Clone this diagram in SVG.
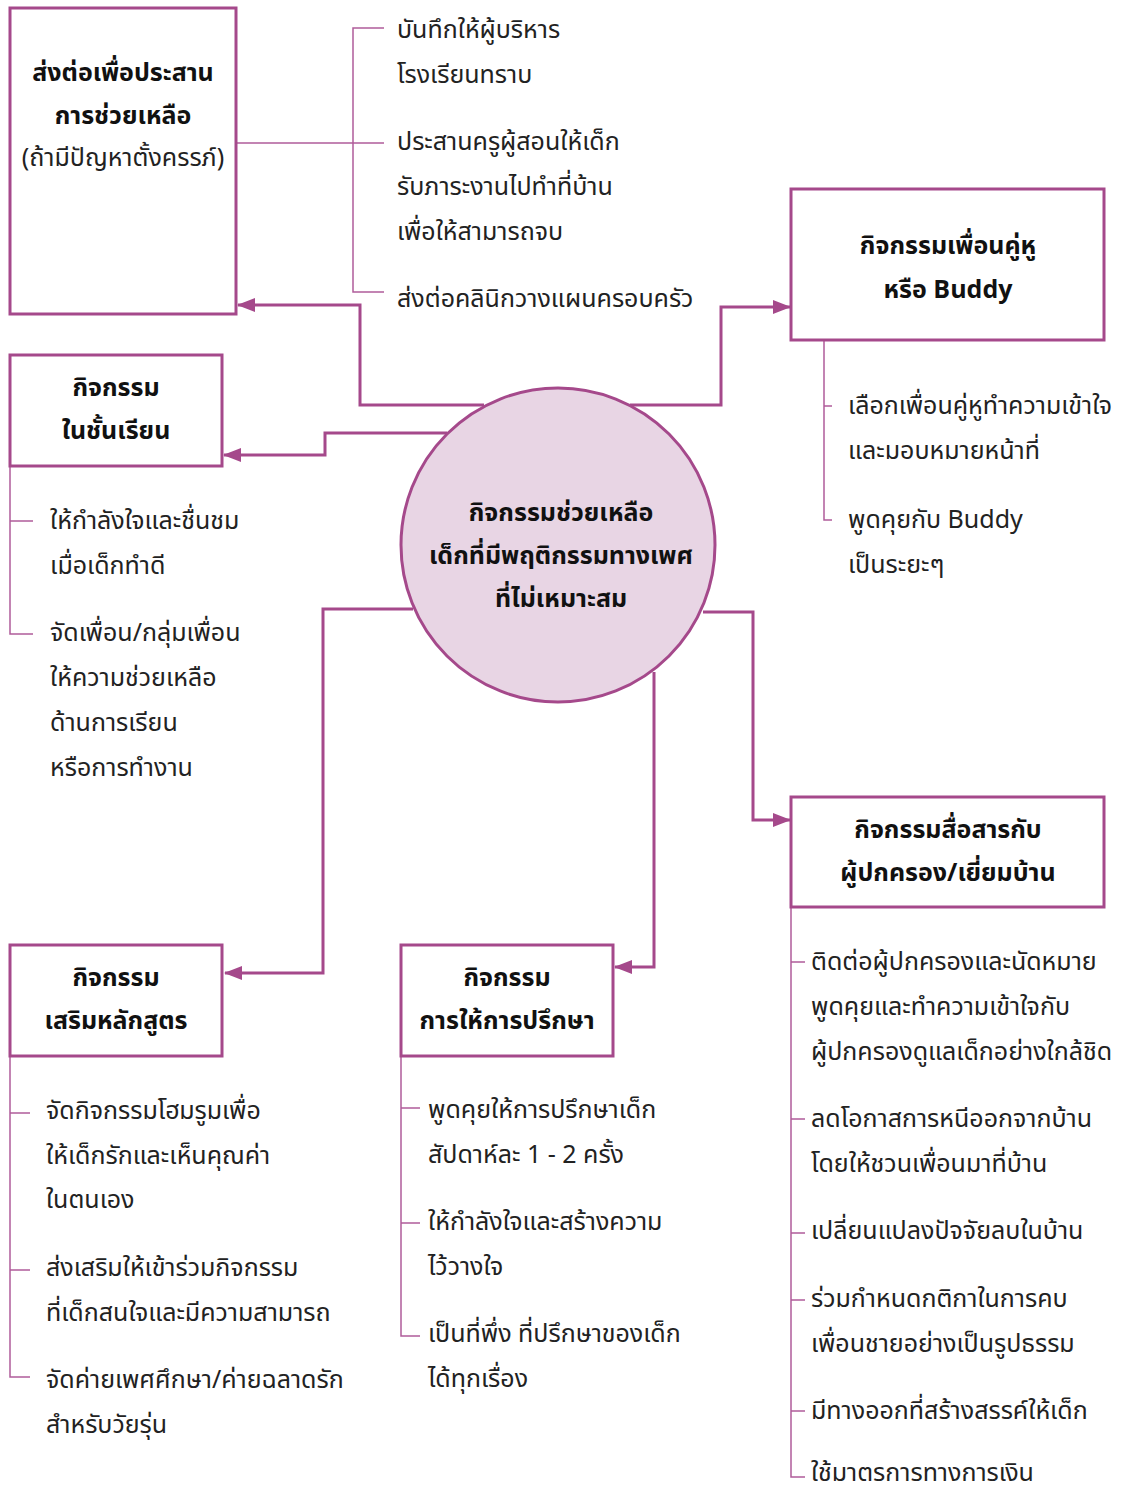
<svg xmlns="http://www.w3.org/2000/svg" width="1138" height="1490" viewBox="0 0 1138 1490">
<defs>
<style>
.box{fill:#fff;stroke:#A5498B;stroke-width:3}
.circ{fill:#E8D5E4;stroke:#A5498B;stroke-width:3}
.conn{fill:none;stroke:#A5498B;stroke-width:3}
.br{fill:none;stroke:#B05C9A;stroke-width:1.5}
text{font-family:"Noto Sans Thai","Noto Sans","DejaVu Sans",sans-serif;font-size:25px;fill:#222}
.b{font-weight:bold;text-anchor:middle;fill:#111}
.c{text-anchor:middle}
</style>
<marker id="ah" markerWidth="18" markerHeight="14" refX="17" refY="7" orient="auto" markerUnits="userSpaceOnUse" viewBox="0 0 18 14">
<path d="M0,0 L18,7 L0,14 z" fill="#A5498B"/>
</marker>
</defs>
<rect width="1138" height="1490" fill="#fff"/>

<g id="connectors">
<path class="conn" d="M484,405 H360 V305 H238" marker-end="url(#ah)"/>
<path class="conn" d="M630,405 H721 V307 H790" marker-end="url(#ah)"/>
<path class="conn" d="M447,433 H325 V455 H224" marker-end="url(#ah)"/>
<path class="conn" d="M413,609 H323 V973 H225" marker-end="url(#ah)"/>
<path class="conn" d="M654,672 V967 H615" marker-end="url(#ah)"/>
<path class="conn" d="M703,612 H753 V820 H790" marker-end="url(#ah)"/>
<path class="br" d="M236,143 H384 M384,28 H353 V292 H384"/>
<path class="br" d="M824,340 V520 H832 M824,406 H832"/>
<path class="br" d="M10,466 V634 H33 M10,521 H33"/>
<path class="br" d="M10,1056 V1377 H30 M10,1113 H30 M10,1270 H30"/>
<path class="br" d="M401,1056 V1336 H420 M401,1108 H420 M401,1223 H420"/>
<path class="br" d="M791,907 V1477 H805 M791,962 H805 M791,1119 H805 M791,1233 H805 M791,1300 H805 M791,1411 H805"/>
</g>

<g id="center">
<circle class="circ" cx="558" cy="545" r="157"/>
<text class="b" x="561" y="521">กิจกรรมช่วยเหลือ</text>
<text class="b" x="561" y="564">เด็กที่มีพฤติกรรมทางเพศ</text>
<text class="b" x="561" y="607">ที่ไม่เหมาะสม</text>
</g>

<g id="refer">
<rect class="box" x="10" y="8" width="226" height="306"/>
<text class="b" x="123" y="81">ส่งต่อเพื่อประสาน</text>
<text class="b" x="123" y="124">การช่วยเหลือ</text>
<text class="c" x="123" y="166">(ถ้ามีปัญหาตั้งครรภ์)</text>
<text x="397" y="38">บันทึกให้ผู้บริหาร</text>
<text x="397" y="83">โรงเรียนทราบ</text>
<text x="397" y="150">ประสานครูผู้สอนให้เด็ก</text>
<text x="397" y="195">รับภาระงานไปทำที่บ้าน</text>
<text x="397" y="240">เพื่อให้สามารถจบ</text>
<text x="397" y="307">ส่งต่อคลินิกวางแผนครอบครัว</text>
</g>

<g id="buddy">
<rect class="box" x="791" y="189" width="313" height="151"/>
<text class="b" x="948" y="254">กิจกรรมเพื่อนคู่หู</text>
<text class="b" x="948" y="298">หรือ Buddy</text>
<text x="848" y="414">เลือกเพื่อนคู่หูทำความเข้าใจ</text>
<text x="848" y="459">และมอบหมายหน้าที่</text>
<text x="848" y="528">พูดคุยกับ Buddy</text>
<text x="848" y="573">เป็นระยะๆ</text>
</g>

<g id="classroom">
<rect class="box" x="10" y="355" width="212" height="111"/>
<text class="b" x="116" y="396">กิจกรรม</text>
<text class="b" x="116" y="439">ในชั้นเรียน</text>
<text x="50" y="529">ให้กำลังใจและชื่นชม</text>
<text x="50" y="574">เมื่อเด็กทำดี</text>
<text x="50" y="641">จัดเพื่อน/กลุ่มเพื่อน</text>
<text x="50" y="686">ให้ความช่วยเหลือ</text>
<text x="50" y="731">ด้านการเรียน</text>
<text x="50" y="776">หรือการทำงาน</text>
</g>

<g id="extra">
<rect class="box" x="10" y="945" width="212" height="111"/>
<text class="b" x="116" y="986">กิจกรรม</text>
<text class="b" x="116" y="1029">เสริมหลักสูตร</text>
<text x="46" y="1119">จัดกิจกรรมโฮมรูมเพื่อ</text>
<text x="46" y="1164">ให้เด็กรักและเห็นคุณค่า</text>
<text x="46" y="1208">ในตนเอง</text>
<text x="46" y="1276">ส่งเสริมให้เข้าร่วมกิจกรรม</text>
<text x="46" y="1321">ที่เด็กสนใจและมีความสามารถ</text>
<text x="46" y="1388">จัดค่ายเพศศึกษา/ค่ายฉลาดรัก</text>
<text x="46" y="1433">สำหรับวัยรุ่น</text>
</g>

<g id="counsel">
<rect class="box" x="401" y="945" width="212" height="111"/>
<text class="b" x="507" y="986">กิจกรรม</text>
<text class="b" x="507" y="1029">การให้การปรึกษา</text>
<text x="428" y="1118">พูดคุยให้การปรึกษาเด็ก</text>
<text x="428" y="1163">สัปดาห์ละ 1 - 2 ครั้ง</text>
<text x="428" y="1230">ให้กำลังใจและสร้างความ</text>
<text x="428" y="1275">ไว้วางใจ</text>
<text x="428" y="1342">เป็นที่พึ่ง ที่ปรึกษาของเด็ก</text>
<text x="428" y="1387">ได้ทุกเรื่อง</text>
</g>

<g id="parent">
<rect class="box" x="791" y="797" width="313" height="110"/>
<text class="b" x="948" y="838">กิจกรรมสื่อสารกับ</text>
<text class="b" x="948" y="881">ผู้ปกครอง/เยี่ยมบ้าน</text>
<text x="811" y="970">ติดต่อผู้ปกครองและนัดหมาย</text>
<text x="811" y="1015">พูดคุยและทำความเข้าใจกับ</text>
<text x="811" y="1060">ผู้ปกครองดูแลเด็กอย่างใกล้ชิด</text>
<text x="811" y="1127">ลดโอกาสการหนีออกจากบ้าน</text>
<text x="811" y="1172">โดยให้ชวนเพื่อนมาที่บ้าน</text>
<text x="811" y="1239">เปลี่ยนแปลงปัจจัยลบในบ้าน</text>
<text x="811" y="1307">ร่วมกำหนดกติกาในการคบ</text>
<text x="811" y="1352">เพื่อนชายอย่างเป็นรูปธรรม</text>
<text x="811" y="1419">มีทางออกที่สร้างสรรค์ให้เด็ก</text>
<text x="811" y="1481">ใช้มาตรการทางการเงิน</text>
</g>
</svg>
